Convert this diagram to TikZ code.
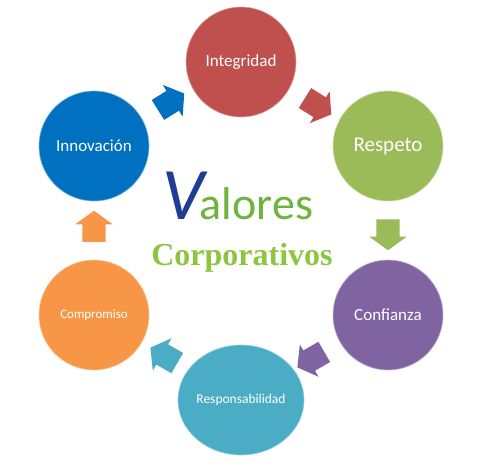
\documentclass[tikz,border=0pt]{standalone}
\usepackage{fontspec}
\usepackage{tikz}
\usetikzlibrary{positioning,calc,shapes.geometric,shapes.arrows}
\newfontfamily\calfont{Carlito}
\newfontfamily\serfont{Liberation Serif}
\definecolor{IntegRed}{HTML}{C0504D}
\definecolor{RespGreen}{HTML}{9BBB59}
\definecolor{ConfPurple}{HTML}{8064A2}
\definecolor{ResponTeal}{HTML}{4BACC6}
\definecolor{CompOrange}{HTML}{F79646}
\definecolor{InnovBlue}{HTML}{0070C0}
\definecolor{VBlue}{HTML}{1F3C96}
\definecolor{AloresGreen}{HTML}{6DB33F}
\definecolor{CorpGreen}{HTML}{8CC63F}

\begin{document}
\begin{tikzpicture}[x=1pt, y=-1pt,
  val/.style={circle, fill=#1, draw=#1!55!white, line width=0.6pt, minimum size=110pt, inner sep=0pt, text=white, font=\calfont\fontsize{17}{20}\selectfont},
  blk/.style={single arrow, fill=#1, draw=none, inner xsep=0pt, inner ysep=11.5pt, minimum height=31pt, single arrow head extend=7pt, single arrow tip angle=108}]
\useasboundingbox (0,0) rectangle (496,472);
\node[val=IntegRed] (integ) at (241,62) {Integridad};
\node[val=RespGreen, font=\calfont\fontsize{21}{24}\selectfont] (respeto) at (388,146) {Respeto};
\node[val=ConfPurple] (conf) at (388,315) {Confianza};
\node[val=ResponTeal, ellipse, minimum width=126pt, minimum height=110pt, font=\calfont\fontsize{13.5}{16}\selectfont] (respon) at (241,400) {Responsabilidad};
\node[val=CompOrange, font=\calfont\fontsize{13}{16}\selectfont] (comp) at (94,315) {Compromiso};
\node[val=InnovBlue] (innov) at (94,146) {Innovación};
\node[blk=InnovBlue, rotate=32] (a1) at ($(innov)!0.5!(integ)$) {};
\node[blk=IntegRed, rotate=-32] (a2) at ($(integ)!0.5!(respeto)$) {};
\node[blk=RespGreen, rotate=-90] (a3) at ($(respeto)!0.5!(conf)$) {};
\node[blk=ConfPurple, rotate=210] (a4) at ($(conf)!0.5!(respon)$) {};
\node[blk=ResponTeal, rotate=150] (a5) at ($(respon)!0.5!(comp)$) {};
\node[blk=CompOrange, rotate=90] (a6) at ($(comp)!0.5!(innov)$) {};
\node[anchor=base, text=AloresGreen, font=\calfont\fontsize{46}{50}\selectfont] (valores) at (238,219) {\textcolor{VBlue}{\fontsize{74}{74}\selectfont\itshape V}\kern-5pt alores};
\node[anchor=base, text=CorpGreen, font=\serfont\bfseries\fontsize{32}{36}\selectfont] (corp) at (242,265) {Corporativos};
\end{tikzpicture}
\end{document}
